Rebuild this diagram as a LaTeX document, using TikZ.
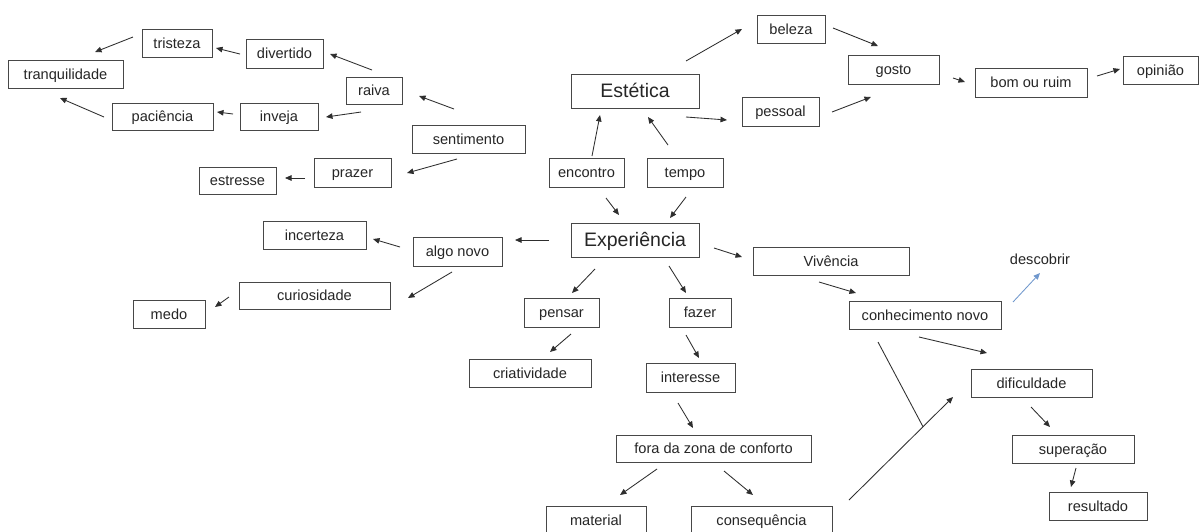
\documentclass[tikz,border=0pt]{standalone}
\usepackage{fontspec}
\setmainfont{Liberation Sans}
\usetikzlibrary{arrows.meta,calc}
\definecolor{steelarrow}{RGB}{112,152,205}
\tikzset{
  box/.style={draw=black!72, line width=0.85pt, inner sep=0pt, minimum height=28,
    text=black!85, font=\fontsize{14.6}{17}\selectfont, text height=12pt, text depth=2pt},
  bigbox/.style={box, minimum height=34, font=\fontsize{19.5}{23}\selectfont, text height=16pt, text depth=2.6pt},
  arr/.style={draw=black!82, line width=0.85pt, -{Triangle[length=6.5pt,width=5.5pt]}},
  bluearr/.style={draw=steelarrow, line width=0.85pt, -{Triangle[length=6.5pt,width=5.5pt]}},
  plain/.style={draw=black!82, line width=0.85pt},
  lbl/.style={inner sep=0pt, text=black!85, font=\fontsize{14.6}{17}\selectfont}
}
\begin{document}
\begin{tikzpicture}[x=1pt,y=-1pt]
\useasboundingbox (0,0) rectangle (1200,531);
\fill[white] (0,0) rectangle (1200,531);
\clip (0,0) rectangle (1200,531);
% nodes
\node[box, minimum width=70, minimum height=28] (tristeza) at (177,43) {tristeza};
\node[box, minimum width=115] (tranq) at (65.5,74) {tranquilidade};
\node[box, minimum width=77, minimum height=29] (divertido) at (284.5,53.5) {divertido};
\node[box, minimum width=101, minimum height=27] (paciencia) at (162.5,116.5) {paciência};
\node[box, minimum width=78, minimum height=27] (inveja) at (279,116.5) {inveja};
\node[box, minimum width=56, minimum height=27] (raiva) at (374,90.5) {raiva};
\node[box, minimum width=113] (sentimento) at (468.5,139) {sentimento};
\node[box, minimum width=77, minimum height=29] (prazer) at (352.5,172.5) {prazer};
\node[box, minimum width=77, minimum height=27] (estresse) at (237.5,180.5) {estresse};
\node[bigbox, minimum width=128] (estetica) at (635,91) {Estética};
\node[box, minimum width=68] (beleza) at (791,29) {beleza};
\node[box, minimum width=77, minimum height=29] (pessoal) at (780.5,111.5) {pessoal};
\node[box, minimum width=91, minimum height=29] (gosto) at (893.5,69.5) {gosto};
\node[box, minimum width=112, minimum height=29] (bom) at (1031,82.5) {bom ou ruim};
\node[box, minimum width=75] (opiniao) at (1160.5,70) {opinião};
\node[box, minimum width=75, minimum height=29] (encontro) at (586.5,172.5) {encontro};
\node[box, minimum width=76, minimum height=29] (tempo) at (685,172.5) {tempo};
\node[bigbox, minimum width=128] (experiencia) at (635,240) {Experiência};
\node[box, minimum width=103] (incerteza) at (314.5,235) {incerteza};
\node[box, minimum width=89, minimum height=29] (algonovo) at (457.5,251.5) {algo novo};
\node[box, minimum width=151, minimum height=27] (curiosidade) at (314.5,295.5) {curiosidade};
\node[box, minimum width=72] (medo) at (169,314) {medo};
\node[box, minimum width=75, minimum height=29] (pensar) at (561.5,312.5) {pensar};
\node[box, minimum width=62, minimum height=29] (fazer) at (700,312.5) {fazer};
\node[box, minimum width=122] (criatividade) at (530,373) {criatividade};
\node[box, minimum width=89, minimum height=29] (interesse) at (690.5,377.5) {interesse};
\node[box, minimum width=156] (vivencia) at (831,261) {Vivência};
\node[box, minimum width=152] (conhecimento) at (925,315) {conhecimento novo};
\node[lbl] (descobrir) at (1040,259) {descobrir};
\node[box, minimum width=121] (dificuldade) at (1031.5,383) {dificuldade};
\node[box, minimum width=122] (superacao) at (1073,449) {superação};
\node[box, minimum width=98] (resultado) at (1098,506) {resultado};
\node[box, minimum width=195, minimum height=27] (fora) at (713.5,448.5) {fora da zona de conforto};
\node[box, minimum width=100] (material) at (596,520) {material};
\node[box, minimum width=141] (consequencia) at (761.5,520) {consequência};
% connectors
\draw[arr] ($(tristeza)+(-44,-6)$) -- ($(tranq)+(29.5,-22)$);
\draw[arr] ($(divertido)+(-44.5,0.5)$) -- ($(tristeza)+(39,5)$);
\draw[arr] ($(raiva)+(-2,-20.5)$) -- ($(divertido)+(45.5,0.5)$);
\draw[arr] ($(raiva)+(-13,21.5)$) -- ($(inveja)+(47,0.5)$);
\draw[arr] ($(inveja)+(-46,-2.5)$) -- ($(paciencia)+(54.5,-4.5)$);
\draw[arr] ($(paciencia)+(-58.5,0.5)$) -- ($(tranq)+(-5.5,24)$);
\draw[arr] ($(sentimento)+(-14.5,-30)$) -- ($(raiva)+(45,5.5)$);
\draw[arr] ($(sentimento)+(-11.5,20)$) -- ($(prazer)+(54.5,0.5)$);
\draw[arr] ($(prazer)+(-47.5,5.5)$) -- ($(estresse)+(47.5,-2.5)$);
\draw[arr] ($(estetica)+(51,-30)$) -- ($(beleza)+(-49,0)$);
\draw[arr] ($(beleza)+(42,-1)$) -- ($(gosto)+(-15.5,-23.5)$);
\draw[arr] ($(estetica)+(51,26)$) -- ($(pessoal)+(-53.5,8.5)$);
\draw[arr] ($(pessoal)+(51.5,0.5)$) -- ($(gosto)+(-22.5,27.5)$);
\draw[arr] ($(gosto)+(59.5,8.5)$) -- ($(bom)+(-66,-0.5)$);
\draw[arr] ($(bom)+(66,-6.5)$) -- ($(opiniao)+(-40.5,-1)$);
\draw[arr] ($(encontro)+(5.5,-16.5)$) -- ($(estetica)+(-35,24)$);
\draw[arr] ($(tempo)+(-17,-27.5)$) -- ($(estetica)+(13,26)$);
\draw[arr] ($(encontro)+(19.5,25.5)$) -- ($(experiencia)+(-16,-25)$);
\draw[arr] ($(tempo)+(1,24.5)$) -- ($(experiencia)+(35,-22)$);
\draw[arr] ($(experiencia)+(-86,0)$) -- ($(algonovo)+(57.5,-11.5)$);
\draw[arr] ($(algonovo)+(-57.5,-4.5)$) -- ($(incerteza)+(58.5,4)$);
\draw[arr] ($(algonovo)+(-5.5,20.5)$) -- ($(curiosidade)+(93.5,2.5)$);
\draw[arr] ($(curiosidade)+(-85.5,1.5)$) -- ($(medo)+(46,-7)$);
\draw[arr] ($(experiencia)+(79,8)$) -- ($(vivencia)+(-89,-4)$);
\draw[arr] ($(experiencia)+(-40,29)$) -- ($(pensar)+(10.5,-19.5)$);
\draw[arr] ($(experiencia)+(34,26)$) -- ($(fazer)+(-14,-19.5)$);
\draw[arr] ($(pensar)+(9.5,21.5)$) -- ($(criatividade)+(20,-21)$);
\draw[arr] ($(fazer)+(-14,22.5)$) -- ($(interesse)+(8.5,-19.5)$);
\draw[arr] ($(interesse)+(-12.5,25.5)$) -- ($(fora)+(-20.5,-20.5)$);
\draw[arr] ($(fora)+(-56.5,20.5)$) -- ($(material)+(24,-25)$);
\draw[arr] ($(fora)+(10.5,22.5)$) -- ($(consequencia)+(-8.5,-25)$);
\draw[arr] ($(vivencia)+(-12,21)$) -- ($(conhecimento)+(-69,-22)$);
\draw[bluearr] ($(conhecimento)+(88,-13)$) -- ($(descobrir)+(0,14)$);
\draw[arr] ($(conhecimento)+(-6,22)$) -- ($(dificuldade)+(-44.5,-30)$);
\draw[arr] ($(consequencia)+(87.5,-20)$) -- coordinate[pos=0.7115] (meet) ($(dificuldade)+(-78.5,14)$);
\draw[plain] ($(conhecimento)+(-47,27)$) -- (meet);
\draw[arr] ($(dificuldade)+(-0.5,24)$) -- ($(superacao)+(-23,-22)$);
\draw[arr] ($(superacao)+(3,19)$) -- ($(resultado)+(-27,-19)$);
\end{tikzpicture}
\end{document}
